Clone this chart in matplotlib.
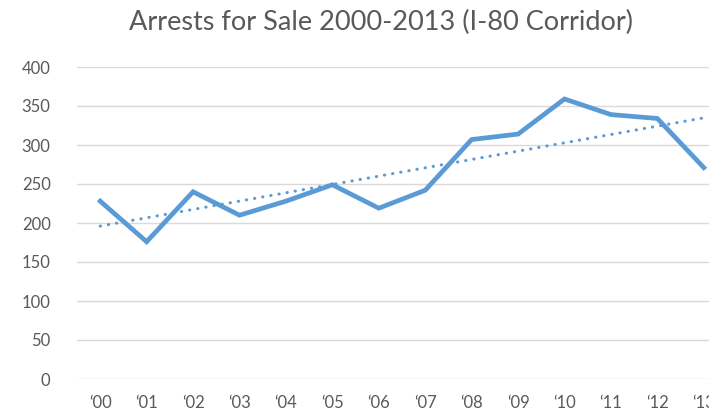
import numpy as np
import matplotlib.pyplot as plt

years = ["\u201800", "\u201801", "\u201802", "\u201803", "\u201804", "\u201805", "\u201806",
         "\u201807", "\u201808", "\u201809", "\u201810", "\u201811", "\u201812", "\u201813"]
arrests = [228, 176, 240, 210, 228, 249, 219, 242, 307, 314, 359, 339, 334, 271]
yticks = [0, 50, 100, 150, 200, 250, 300, 350, 400]

blue = "#5B9BD5"
grey = "#595959"
plt.rcParams['font.family'] = ['Lato', 'DejaVu Sans']

fig = plt.figure(figsize=(7.09, 4.13), dpi=100)
W, H = 709, 413
ax = fig.add_axes([77 / W, (H - 379) / H, 650 / W, 312 / H])

x = np.arange(len(arrests))
ax.plot(x, arrests, color=blue, lw=3.4, solid_joinstyle='miter', zorder=3)

# linear trendline
k, b = np.polyfit(x, arrests, 1)
ax.plot(x, k * x + b, color=blue, lw=2.2, linestyle=(0, (0.1, 2.6)),
        dash_capstyle='round', zorder=3)

ax.set_xlim(-0.5, len(arrests) - 0.5)
ax.set_ylim(0, 400)
ax.set_yticks(yticks)
ax.set_xticks(x)
ax.set_xticklabels(years)
ax.grid(axis='y', color="#D9D9D9", lw=1)
ax.set_axisbelow(True)
for s in ax.spines.values():
    s.set_visible(False)
ax.tick_params(length=0, labelsize=12, colors=grey)
ax.tick_params(axis='x', pad=11.5)
ax.tick_params(axis='y', pad=19)

fig.text(0.537, 0.945, "Arrests for Sale 2000-2013 (I-80 Corridor)", ha='center', va='center',
         fontsize=19.5, color=grey)

fig.savefig("out.png", dpi=100)
